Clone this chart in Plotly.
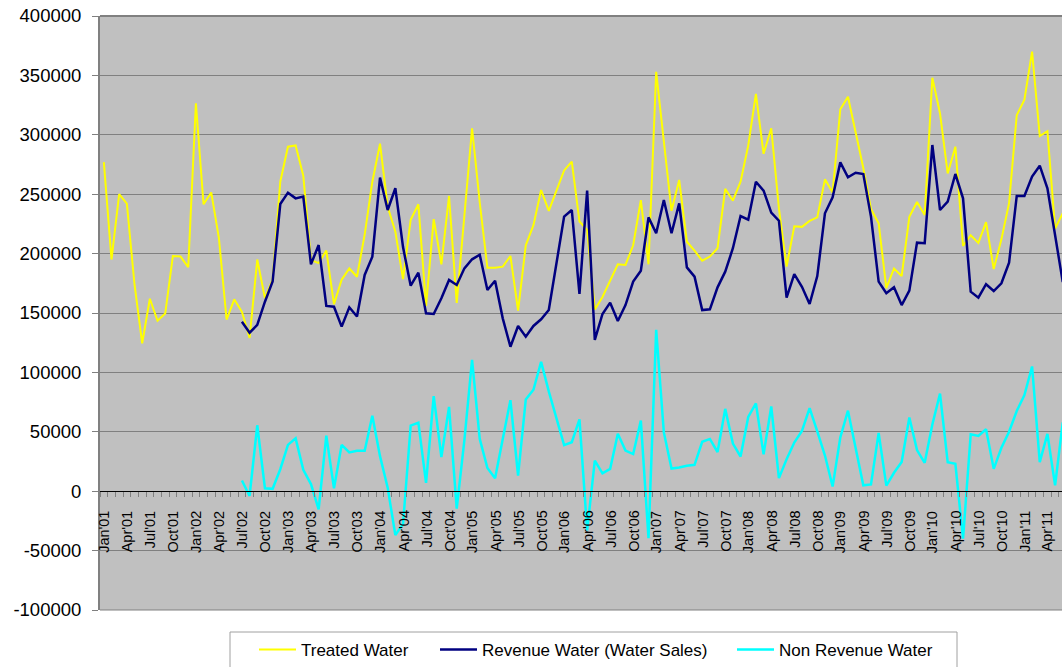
import plotly.graph_objects as go

# ---------------- data ----------------
MONTH_NAMES = ["Jan", "Feb", "Mar", "Apr", "May", "Jun", "Jul", "Aug", "Sep", "Oct", "Nov", "Dec"]
months = [f"{m}'{y:02d}" for y in range(1, 12) for m in MONTH_NAMES][:126]  # Jan'01 .. Jun'11

tick_labels = ["Jan'01", "Apr'01", "Jul'01", "Oct'01", "Jan'02", "Apr'02", "Jul'02", "Oct'02",
               "Jan'03", "Apr'03", "Jul'03", "Oct'03", "Jan'04", "Apr'04", "Jul'04", "Oct'04",
               "Jan'05", "Apr'05", "Jul'05", "Oct'05", "Jan'06", "Apr'06", "Jul'06", "Oct'06",
               "Jan'07", "Apr'07", "Jul'07", "Oct'07", "Jan'08", "Apr'08", "Jul'08", "Oct'08",
               "Jan'09", "Apr'09", "Jul'09", "Oct'09", "Jan'10", "Apr'10", "Jul'10", "Oct'10",
               "Jan'11", "Apr'11"]

treated_water = [
    277000, 195000, 250000, 242000, 174000, 124500, 162000, 143500, 149500, 198000, 197500, 188500,
    326500, 241500, 251500, 213000, 144500, 161500, 151000, 129000, 195000, 162500, 178000, 260500,
    290000, 291000, 265500, 194500, 192000, 202500, 157500, 178000, 187500, 180500, 216000, 260500,
    292500, 239500, 218500, 178500, 228500, 241500, 156000, 229000, 191000, 248500, 158500, 230500,
    305500, 243000, 188000, 188000, 189000, 198000, 152000, 207000, 224000, 253500, 236000, 253000,
    270000, 277500, 227000, 220000, 153000, 163500, 178000, 191000, 190500, 207000, 245000, 191000,
    353000, 295500, 236000, 262000, 210000, 202500, 194000, 197500, 204500, 254500, 244500, 260500,
    291000, 334500, 284000, 305500, 238000, 189000, 223000, 222500, 227500, 230500, 262500, 251500,
    321500, 332000, 303000, 272000, 237500, 225500, 171000, 187500, 181000, 231000, 243500, 232500,
    348000, 318000, 267500, 290000, 206500, 215500, 209000, 226500, 187000, 212000, 242500, 316500,
    329500, 370000, 299000, 303000, 221000, 234000,
]

revenue_water = [None] * 18 + [
    142700, 133400, 140000, 159500, 176500, 241700,
    251300, 246500, 248000, 191000, 207200, 156000, 155300, 138500, 154800, 147000, 182000, 197400,
    264000, 236700, 255000, 205500, 173000, 184000, 149700, 149200, 162400, 177800, 173600, 187600,
    195200, 199000, 169400, 177200, 145500, 121600, 139100, 130100, 139100, 144700, 152500, 191800,
    231100, 236700, 166000, 253000, 127300, 149200, 158700, 143300, 156700, 176400, 185600, 230500,
    217100, 245100, 217100, 242300, 188400, 180600, 152500, 153100, 171600, 184800, 204500, 231600,
    228500, 260500, 253000, 234500, 227700, 162900, 182800, 172100, 157600, 181100, 233900, 247400,
    276800, 264200, 268100, 267000, 231100, 176400, 166600, 171600, 156700, 168800, 209200, 208700,
    291400, 236700, 243700, 267000, 246500, 168000, 162900, 174200, 168500, 175000, 192400, 248500,
    248500, 264800, 274000, 255000, 216000, 176000,
]

non_revenue_water = [None] * 18 + [
    9000, -4000, 55500, 2500, 2000, 18500,
    39000, 44500, 18000, 6000, -15300, 46800, 2500, 39000, 32600, 34000, 34000, 63500,
    29500, 3000, -37000, -27500, 55200, 57700, 7000, 80000, 28800, 71000, -14700, 43000,
    110500, 44000, 19500, 10900, 44000, 76600, 13200, 77200, 85400, 108900, 84000, 60500,
    38800, 41200, 60500, -33000, 25800, 15000, 18800, 48300, 34200, 31300, 59400, -39600,
    135800, 49500, 19100, 19900, 21400, 22200, 41600, 44000, 33000, 69300, 40100, 29200,
    62500, 73900, 31000, 71300, 11000, 26900, 41000, 50700, 69900, 50400, 30000, 3900,
    45200, 67800, 35000, 5000, 5700, 49100, 4700, 15500, 24600, 62100, 34600, 23900,
    56200, 82100, 24300, 23000, -40000, 47900, 46500, 52200, 18800, 36600, 50000, 67500,
    80900, 105000, 24500, 48200, 5000, 58000,
]

y_tick_values = [-100000, -50000, 0, 50000, 100000, 150000, 200000, 250000, 300000, 350000, 400000]
y_tick_labels = ["-100000", "-50000", "0", "50000", "100000", "150000", "200000", "250000",
                 "300000", "350000", "400000"]

# ---------------- figure ----------------
x_pos = list(range(len(months)))
tick_pos = [months.index(t) for t in tick_labels]

FONT = "Liberation Sans, Arial, sans-serif"
FIG_W, FIG_H = 1062, 667
PLOT_L, PLOT_T, PLOT_B = 100, 16, 610
PLOT_W, PLOT_H = FIG_W - PLOT_L, PLOT_B - PLOT_T


def px_x(px):
    return (px - PLOT_L) / PLOT_W


def px_y(py):
    return (PLOT_B - py) / PLOT_H


zero_pos = (0 - (-100000)) / (400000 - (-100000))

fig = go.Figure()
fig.add_trace(go.Scatter(x=x_pos, y=treated_water, name="Treated Water", mode="lines",
                         line=dict(color="#FFFF00", width=2), customdata=months, legend="legend",
                         hovertemplate="%{customdata}: %{y}<extra>Treated Water</extra>"))
fig.add_trace(go.Scatter(x=x_pos, y=revenue_water, name="Revenue Water (Water Sales)", mode="lines",
                         line=dict(color="#000080", width=2.5), customdata=months, legend="legend2",
                         hovertemplate="%{customdata}: %{y}<extra>Revenue Water</extra>"))
fig.add_trace(go.Scatter(x=x_pos, y=non_revenue_water, name="Non Revenue Water", mode="lines",
                         line=dict(color="#00FFFF", width=2.5), customdata=months, legend="legend3",
                         hovertemplate="%{customdata}: %{y}<extra>Non Revenue Water</extra>"))

legend_common = dict(orientation="h", xanchor="left", yanchor="top", y=px_y(632),
                     bgcolor="rgba(0,0,0,0)", borderwidth=0, itemwidth=37,
                     font=dict(family=FONT, size=17, color="black"))

# category labels hanging below the zero line (rotated text)
label_annotations = [
    dict(x=p, y=px_y(509), xref="x", yref="paper", text=t, showarrow=False,
         textangle=-90, xanchor="center", yanchor="top",
         font=dict(family=FONT, size=14.5, color="black"))
    for p, t in zip(tick_pos, tick_labels)
]

fig.update_layout(
    width=FIG_W, height=FIG_H,
    margin=dict(l=PLOT_L, r=0, t=PLOT_T, b=FIG_H - PLOT_B, autoexpand=False),
    paper_bgcolor="white",
    plot_bgcolor="#C0C0C0",
    font=dict(family=FONT, color="black"),
    showlegend=True,
    legend=dict(x=px_x(254), **legend_common),
    legend2=dict(x=px_x(435), **legend_common),
    legend3=dict(x=px_x(732), **legend_common),
    # axis line at y=0 with monthly tick marks
    xaxis=dict(
        anchor="free", position=zero_pos, automargin=False,
        range=[-0.5, 124.9],
        showticklabels=False, ticks="",
        showline=True, linecolor="black", linewidth=1.3,
        showgrid=False, zeroline=False,
        minor=dict(ticks="outside", ticklen=5, tickcolor="#808080", tickwidth=1,
                   tickmode="linear", tick0=-0.5, dtick=1, showgrid=False),
    ),
    yaxis=dict(
        range=[-100000, 400000], automargin=False,
        tickmode="array", tickvals=y_tick_values, ticktext=y_tick_labels,
        ticks="outside", ticklen=6, tickcolor="#808080", tickwidth=1,
        ticklabelstandoff=7, ticklabeloverflow="allow",
        tickfont=dict(family=FONT, size=18.5, color="black"),
        showline=True, linecolor="#808080", linewidth=2,
        showgrid=True, gridcolor="#808080", gridwidth=1,
        zeroline=False,
    ),
    annotations=label_annotations,
    shapes=[
        dict(type="line", xref="paper", yref="paper", x0=0, x1=1.02, y0=1, y1=1,
             line=dict(color="#808080", width=2)),
        dict(type="line", xref="paper", yref="paper", x0=0, x1=1.02, y0=0, y1=0,
             line=dict(color="#808080", width=1)),
        dict(type="rect", xref="paper", yref="paper",
             x0=px_x(230), x1=px_x(957), y0=px_y(632), y1=px_y(700),
             line=dict(color="#A0A0A0", width=1), fillcolor="rgba(0,0,0,0)", layer="above"),
    ],
)

fig.write_html("out.html", config={"displayModeBar": False},
               post_script="document.body.style.margin='0px';")
